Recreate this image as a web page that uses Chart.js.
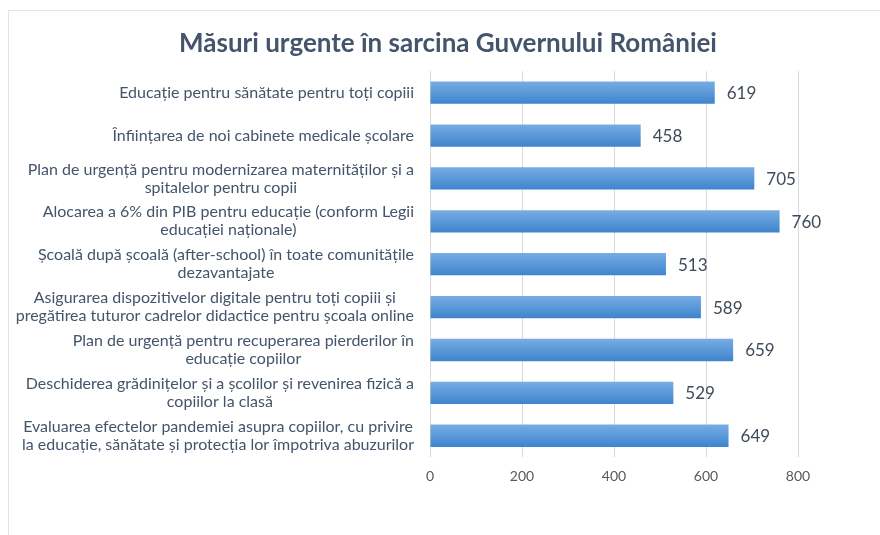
<!DOCTYPE html>
<html>
<head>
<meta charset="utf-8">
<script src="https://cdn.jsdelivr.net/npm/chart.js@4/dist/chart.umd.min.js"></script>
<style>
  body { margin: 0; background: #fff; }
  #frame { position: absolute; left: 8px; top: 10px; width: 900px; height: 600px; border: 1px solid #e4e4e4; }
  #wrap { position: absolute; left: 0; top: 0; width: 880px; height: 535px; }
</style>
</head>
<body>
<div id="frame"></div>
<div id="wrap"><canvas id="chart"></canvas></div>
<script>
// date
const categories = [
    ['Educație pentru sănătate pentru toți copiii'],
    ['Înființarea de noi cabinete medicale școlare'],
    ['Plan de urgență pentru modernizarea maternităților și a', 'spitalelor pentru copii'],
    ['Alocarea a 6% din PIB pentru educație (conform Legii', 'educației naționale)'],
    ['Școală după școală (after-school) în toate comunitățile', 'dezavantajate'],
    ['Asigurarea dispozitivelor digitale pentru toți copiii și', 'pregătirea tuturor cadrelor didactice pentru școala online'],
    ['Plan de urgență pentru recuperarea pierderilor în', 'educație copiilor'],
    ['Deschiderea grădinițelor și a școlilor și revenirea fizică a', 'copiilor la clasă'],
    ['Evaluarea efectelor pandemiei asupra copiilor, cu privire', 'la educație, sănătate și protecția lor împotriva abuzurilor']
];
const values = [619, 458, 705, 760, 513, 589, 659, 529, 649];
const xTicks = [0, 200, 400, 600, 800];

const FONT = 'Lato, "Liberation Sans", sans-serif';

// etichetele categoriilor: bloc aliniat la dreapta, rândurile centrate între ele
const categoryLabels = {
    id: 'categoryLabels',
    afterDraw(chart) {
        const ctx = chart.ctx;
        const yScale = chart.scales.y;
        const right = chart.chartArea.left - 16;
        ctx.save();
        ctx.font = '16px ' + FONT;
        ctx.fillStyle = '#44546a';
        ctx.textAlign = 'center';
        ctx.textBaseline = 'middle';
        categories.forEach((lines, i) => {
            const widest = Math.max(...lines.map(l => ctx.measureText(l).width));
            const cx = right - widest / 2;
            const y = yScale.getPixelForValue(i);
            const lh = 18;
            const y0 = y - (lines.length - 1) * lh / 2;
            lines.forEach((l, k) => ctx.fillText(l, cx, y0 + k * lh));
        });
        ctx.restore();
    }
};

// valorile de la capătul barelor
const valueLabels = {
    id: 'valueLabels',
    afterDatasetsDraw(chart) {
        const ctx = chart.ctx;
        const meta = chart.getDatasetMeta(0);
        ctx.save();
        ctx.font = '17px ' + FONT;
        ctx.fillStyle = '#404b5a';
        ctx.textAlign = 'left';
        ctx.textBaseline = 'middle';
        meta.data.forEach((bar, i) => {
            ctx.fillText(values[i], bar.x + 12, bar.y + 1);
        });
        ctx.restore();
    }
};

function barGradient(context) {
    const chart = context.chart;
    const yScale = chart.scales.y;
    if (!chart.chartArea || !yScale || context.dataIndex === undefined) return '#5b9bd5';
    const y = yScale.getPixelForValue(context.dataIndex);
    const g = chart.ctx.createLinearGradient(0, y - 11, 0, y + 11);
    g.addColorStop(0, '#76ade3');
    g.addColorStop(1, '#3f84cd');
    return g;
}

new Chart(document.getElementById('chart'), {
    type: 'bar',
    data: {
        labels: categories,
        datasets: [{
            data: values,
            backgroundColor: barGradient,
            borderWidth: 0,
            categoryPercentage: 1,
            barPercentage: 0.52
        }]
    },
    options: {
        indexAxis: 'y',
        responsive: true,
        maintainAspectRatio: false,
        animation: false,
        layout: { padding: { left: 98, right: 82, top: 0, bottom: 39 } },
        plugins: {
            legend: { display: false },
            tooltip: { enabled: false },
            title: {
                display: true,
                text: 'Măsuri urgente în sarcina Guvernului României',
                color: '#44546a',
                font: { family: FONT, size: 26, weight: 'bold' },
                padding: { top: 28, bottom: 12 }
            }
        },
        scales: {
            x: {
                min: xTicks[0],
                max: xTicks[xTicks.length - 1],
                afterBuildTicks: scale => { scale.ticks = xTicks.map(v => ({ value: v })); },
                grid: { color: '#d9d9d9', drawTicks: false },
                border: { display: false },
                ticks: { color: '#595959', padding: 11, font: { family: FONT, size: 14 } }
            },
            y: {
                grid: { display: false },
                border: { display: false },
                ticks: { display: false },
                afterFit: scale => { scale.width = 332; }
            }
        }
    },
    plugins: [categoryLabels, valueLabels]
});
</script>
</body>
</html>
